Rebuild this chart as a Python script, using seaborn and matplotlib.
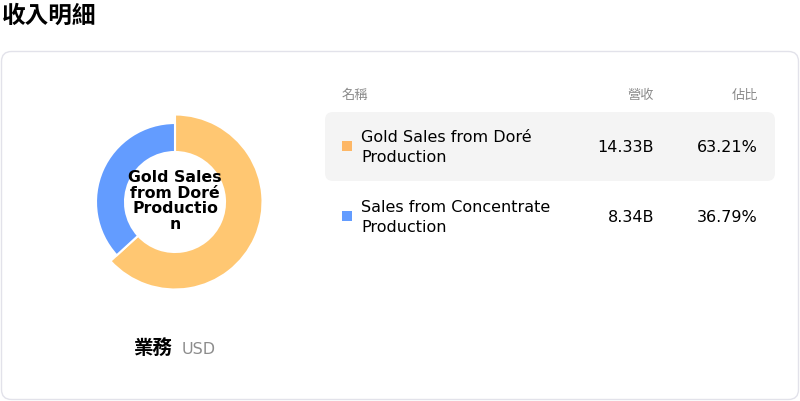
import textwrap
import matplotlib
matplotlib.use("Agg")
import matplotlib.pyplot as plt
from matplotlib.patches import FancyBboxPatch, Rectangle
import seaborn as sns

# data
categories = ["Gold Sales from Doré Production", "Sales from Concentrate Production"]
revenue = [14.33, 8.34]          # billions USD
share = [63.21, 36.79]           # percent
center_label = "Gold Sales\nfrom Doré\nProductio\nn"
title = "收入明細"
col_headers = ["名稱", "營收", "佔比"]

sns.set_theme(style="white", rc={"text.color": "black"})
plt.rcParams['font.family'] = ['DejaVu Sans', 'Noto Sans CJK TC']

donut_colors = ["#ffc772", "#639cff"]
swatch_colors = ["#fdb766", "#639cff"]

W, H = 800, 402
fig = plt.figure(figsize=(W / 100, H / 100), dpi=100)

# overlay axes in pixel coordinates
bg = fig.add_axes([0, 0, 1, 1])
bg.set_xlim(0, W)
bg.set_ylim(H, 0)
bg.axis("off")

bg.text(2, 16, title, fontsize=17, fontweight="bold", va="center", ha="left")

card = FancyBboxPatch((1.5, 52.5), 797, 348, boxstyle="round,pad=0,rounding_size=10",
                      fc="white", ec="#e2e2ea", lw=1)
bg.add_patch(card)

# donut
cx, cy, half = 175, 203, 100
dax = fig.add_axes([(cx - half) / W, (H - cy - half) / H, 2 * half / W, 2 * half / H])
wedges, _ = dax.pie(share, colors=donut_colors, startangle=90, counterclock=False,
                    radius=87.5, wedgeprops=dict(width=37.5, edgecolor="white", linewidth=1.5))
wedges[1].set_radius(79)
wedges[1].set_width(29)
dax.set_xlim(-half, half)
dax.set_ylim(-half, half)
dax.set_aspect("equal")
dax.axis("off")
dax.text(0, 2, center_label, ha="center", va="center", fontsize=11.3, fontweight="bold",
         linespacing=1.03)

bg.text(173, 349, "業務", ha="right", va="center", fontsize=14, fontweight="bold")
bg.text(182, 349.5, "USD", ha="left", va="center", fontsize=11.5, color="#8c8c8c")

# table
hdr_y = 95
bg.text(342, hdr_y, col_headers[0], ha="left", va="center", fontsize=9.5, color="#8a8a8a")
bg.text(654, hdr_y, col_headers[1], ha="right", va="center", fontsize=9.5, color="#8a8a8a")
bg.text(758, hdr_y, col_headers[2], ha="right", va="center", fontsize=9.5, color="#8a8a8a")

row_y = [147, 217]
hl = FancyBboxPatch((325, 113), 450, 69, boxstyle="round,pad=0,rounding_size=8",
                    fc="#f4f4f4", ec="none")
bg.add_patch(hl)
for i, name in enumerate(categories):
    y = row_y[i]
    bg.add_patch(Rectangle((342, y - 5), 10, 10, fc=swatch_colors[i], ec="none"))
    bg.text(361, y + 0.5, textwrap.fill(name, width=22), ha="left", va="center",
            fontsize=11.5, linespacing=1.35)
    bg.text(654, y + 1, f"{revenue[i]:.2f}B", ha="right", va="center", fontsize=11.5)
    bg.text(758, y + 1, f"{share[i]:.2f}%", ha="right", va="center", fontsize=11.5)

fig.savefig("out.png", dpi=100)
